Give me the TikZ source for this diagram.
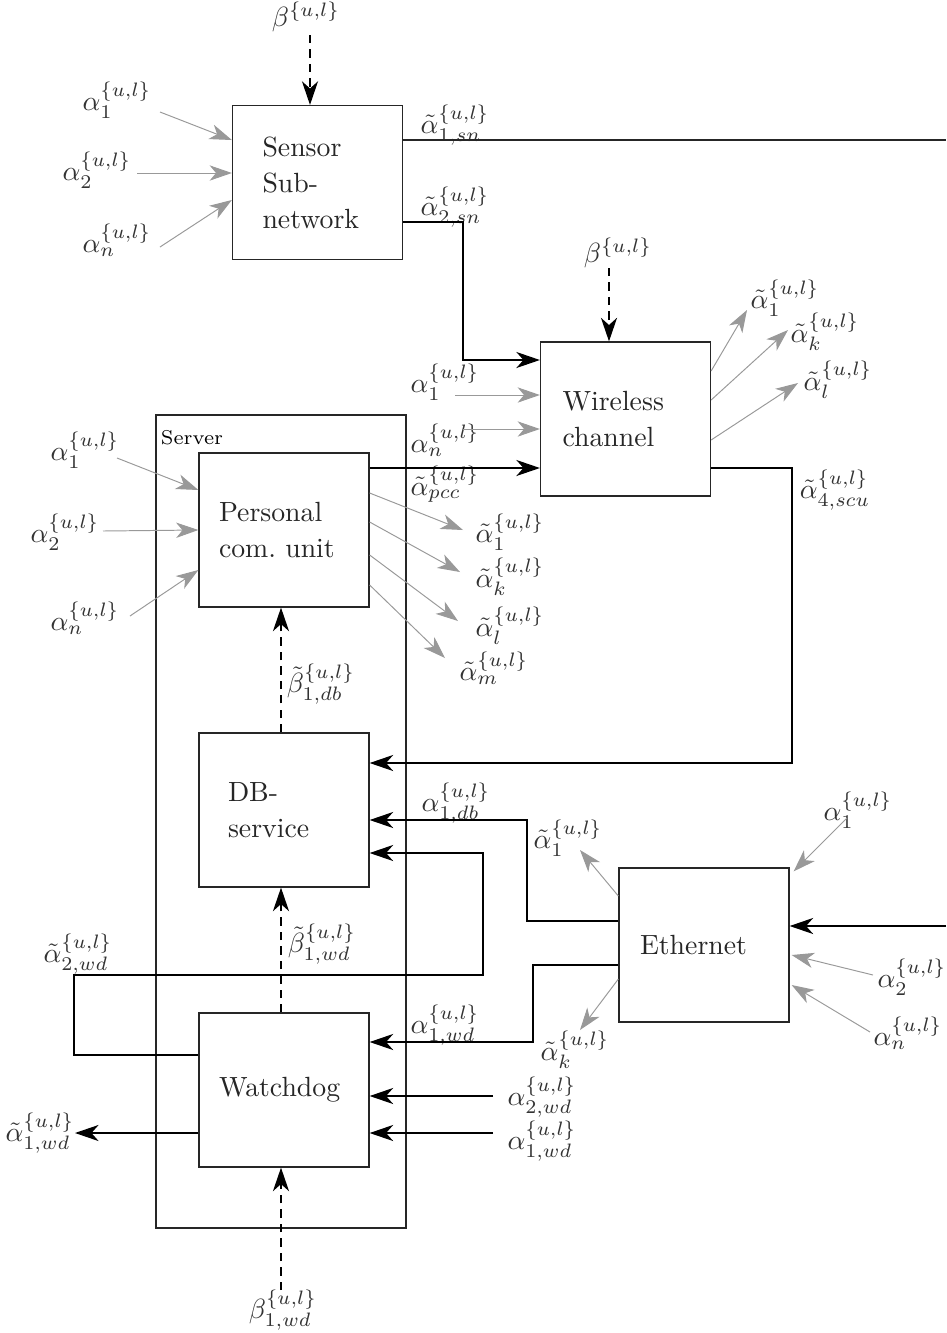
\documentclass[tikz,border=0pt]{standalone}
\usetikzlibrary{arrows.meta}
\begin{document}
\begin{tikzpicture}[x=0.36pt,y=-0.36pt,
 blk/.style 2 args={draw=black!85, line width=0.45pt, minimum height=55.44pt, inner ysep=0pt, inner xsep=#1pt, text width=#2pt, align=left, font=\fontsize{10}{13}\selectfont, text=black!85},
 lab/.style={inner sep=0pt, text=black!80, font=\fontsize{10}{12}\selectfont},
 barr/.style={draw=black, line width=0.45pt, -{Stealth[length=8.5pt,width=5.8pt,inset=2.6pt]}},
 garr/.style={draw=black!40, line width=0.35pt, -{Stealth[length=8pt,width=5.5pt,inset=2.3pt,fill=black!40]}},
 dsh/.style={barr, dash pattern=on 3pt off 2.2pt},
 wire/.style={draw=black!85, line width=0.45pt},
]
\useasboundingbox (0,0) rectangle (946,1333);
% server container
\node[draw=black!85, line width=0.45pt, minimum width=90pt, minimum height=292.7pt, inner sep=0pt] (srv) at (281,821.5) {};
\node[inner sep=0pt, font=\fontsize{7.2}{9}\selectfont, text=black] (srvl) at (192,438) {Server};
% blocks
\node[blk={10.8}{39.6}] (sn) at (317.5,182.5) {Sensor\\Sub-\\network};
\node[blk={7.92}{45.36}] (wc) at (625.5,419) {Wireless\\channel};
\node[blk={7.2}{46.8}] (pcu) at (284,530) {Personal\\com.\ unit};
\node[blk={10.44}{40.32}] (db) at (284,810) {DB-\\service};
\node[blk={7.56}{46.08}] (eth) at (704,945) {Ethernet};
\node[blk={7.2}{46.8}] (wd) at (284,1090) {Watchdog};
% labels
\node[lab] (lb1) at (306,17) {$\beta^{\{u,l\}}$};
\node[lab] (la1s) at (117,100) {$\alpha_1^{\{u,l\}}$};
\node[lab] (la2s) at (97,170) {$\alpha_2^{\{u,l\}}$};
\node[lab] (lans) at (117,240) {$\alpha_n^{\{u,l\}}$};
\node[lab] (lo1sn) at (455,125) {$\tilde\alpha_{1,sn}^{\{u,l\}}$};
\node[lab] (lo2sn) at (455,207) {$\tilde\alpha_{2,sn}^{\{u,l\}}$};
\node[lab] (lb2) at (618,253) {$\beta^{\{u,l\}}$};
\node[lab] (la1w) at (445,382) {$\alpha_1^{\{u,l\}}$};
\node[lab] (lanw) at (445,440) {$\alpha_n^{\{u,l\}}$};
\node[lab] (lpcc) at (445,484) {$\tilde\alpha_{pcc}^{\{u,l\}}$};
\node[lab] (lw1) at (785,298) {$\tilde\alpha_1^{\{u,l\}}$};
\node[lab] (lwk) at (825,332) {$\tilde\alpha_k^{\{u,l\}}$};
\node[lab] (lwl) at (838,380) {$\tilde\alpha_l^{\{u,l\}}$};
\node[lab] (lscu) at (835,490) {$\tilde\alpha_{4,scu}^{\{u,l\}}$};
\node[lab] (la1p) at (85,450) {$\alpha_1^{\{u,l\}}$};
\node[lab] (la2p) at (65,532) {$\alpha_2^{\{u,l\}}$};
\node[lab] (lanp) at (85,618) {$\alpha_n^{\{u,l\}}$};
\node[lab] (lp1) at (510,532) {$\tilde\alpha_1^{\{u,l\}}$};
\node[lab] (lpk) at (510,577) {$\tilde\alpha_k^{\{u,l\}}$};
\node[lab] (lpl) at (510,626) {$\tilde\alpha_l^{\{u,l\}}$};
\node[lab] (lpm) at (494,668) {$\tilde\alpha_m^{\{u,l\}}$};
\node[lab] (lbdb) at (321,684) {$\tilde\beta_{1,db}^{\{u,l\}}$};
\node[lab] (la1db) at (456,803) {$\alpha_{1,db}^{\{u,l\}}$};
\node[lab] (le1) at (568,838) {$\tilde\alpha_1^{\{u,l\}}$};
\node[lab] (lea1) at (858,810) {$\alpha_1^{\{u,l\}}$};
\node[lab] (la2wd) at (78,954) {$\tilde\alpha_{2,wd}^{\{u,l\}}$};
\node[lab] (lbwd) at (322,944) {$\tilde\beta_{1,wd}^{\{u,l\}}$};
\node[lab] (lea2) at (912,977) {$\alpha_2^{\{u,l\}}$};
\node[lab] (lean) at (908,1033) {$\alpha_n^{\{u,l\}}$};
\node[lab] (la1wd) at (445,1025) {$\alpha_{1,wd}^{\{u,l\}}$};
\node[lab] (lek) at (575,1050) {$\tilde\alpha_k^{\{u,l\}}$};
\node[lab] (l2wd) at (542,1097) {$\alpha_{2,wd}^{\{u,l\}}$};
\node[lab] (l1wd) at (542,1141) {$\alpha_{1,wd}^{\{u,l\}}$};
\node[lab] (lo1wd) at (40,1133) {$\tilde\alpha_{1,wd}^{\{u,l\}}$};
\node[lab] (lb1wd) at (283,1310) {$\beta_{1,wd}^{\{u,l\}}$};
% free ends
\coordinate (s1) at (160,112); \coordinate (s2) at (137,173); \coordinate (s3) at (160,247);
\coordinate (bs) at (310,35);
\coordinate (e1) at (946,140);
\coordinate (bw) at (609,268);
\coordinate (w1) at (455,395); \coordinate (w2) at (463,429);
\coordinate (wo1) at (747,310); \coordinate (wo2) at (788,330); \coordinate (wo3) at (798,383);
\coordinate (p1) at (117,458); \coordinate (p2) at (103,531); \coordinate (p3) at (130,616);
\coordinate (po1) at (463,530); \coordinate (po2) at (460,572); \coordinate (po3) at (458,621); \coordinate (po4) at (445,658);
\coordinate (eo1) at (580,850); \coordinate (eo2) at (580,1030);
\coordinate (ei1) at (847,818); \coordinate (ei0) at (946,926); \coordinate (ei2) at (873,975); \coordinate (ei3) at (870,1032);
\coordinate (wdo) at (75,1133); \coordinate (wi2) at (493,1096); \coordinate (wi1) at (493,1133);
\coordinate (bwd) at (281,1290);
% sensor
\draw[dsh] (bs) -- ([shift={(-7.5,0)}]sn.north);
\draw[garr] (s1) -- ([shift={(0,-42.5)}]sn.west);
\draw[garr] (s2) -- ([shift={(0,-9.5)}]sn.west);
\draw[garr] (s3) -- ([shift={(0,17.5)}]sn.west);
\draw[wire] ([shift={(0,-42.5)}]sn.east) -- (e1);
\draw[barr] ([shift={(0,39.5)}]sn.east) -| (463,360) -- ([shift={(0,-59)}]wc.west);
% wireless
\draw[dsh] (bw) -- ([shift={(-16.5,0)}]wc.north);
\draw[garr] (w1) -- ([shift={(0,-24)}]wc.west);
\draw[garr] (w2) -- ([shift={(0,10)}]wc.west);
\draw[barr] ([shift={(0,-62)}]pcu.east) -- ([shift={(0,49)}]wc.west);
\draw[garr] ([shift={(0,-48)}]wc.east) -- (wo1);
\draw[garr] ([shift={(0,-19)}]wc.east) -- (wo2);
\draw[garr] ([shift={(0,21)}]wc.east) -- (wo3);
\draw[barr] ([shift={(0,49)}]wc.east) -| (792,763) -- ([shift={(0,-47)}]db.east);
% personal
\draw[garr] (p1) -- ([shift={(0,-40)}]pcu.west);
\draw[garr] (p2) -- (pcu.west);
\draw[garr] (p3) -- ([shift={(0,40)}]pcu.west);
\draw[garr] ([shift={(0,-37)}]pcu.east) -- (po1);
\draw[garr] ([shift={(0,-8)}]pcu.east) -- (po2);
\draw[garr] ([shift={(0,25)}]pcu.east) -- (po3);
\draw[garr] ([shift={(0,55)}]pcu.east) -- (po4);
\draw[dsh] ([shift={(-3,0)}]db.north) -- ([shift={(-3,0)}]pcu.south);
% db
\draw[barr] ([shift={(0,-24)}]eth.west) -| (527,820) -- ([shift={(0,10)}]db.east);
\draw[barr] ([shift={(0,-35)}]wd.west) -| (74,975) -| (483,853) -- ([shift={(0,43)}]db.east);
\draw[dsh] ([shift={(-3,0)}]wd.north) -- ([shift={(-3,0)}]db.south);
% ethernet
\draw[garr] ([shift={(0,-49)}]eth.west) -- (eo1);
\draw[garr] ([shift={(0,34)}]eth.west) -- (eo2);
\draw[garr] (ei1) -- ([shift={(4,4)}]eth.north east);
\draw[barr] (ei0) -- ([shift={(0,-19)}]eth.east);
\draw[garr] (ei2) -- ([shift={(2,10)}]eth.east);
\draw[garr] (ei3) -- ([shift={(2,40)}]eth.east);
\draw[barr] ([shift={(0,20)}]eth.west) -| (533,1042) -- ([shift={(0,-48)}]wd.east);
% watchdog
\draw[barr] ([shift={(0,43)}]wd.west) -- (wdo);
\draw[barr] (wi2) -- ([shift={(0,6)}]wd.east);
\draw[barr] (wi1) -- ([shift={(0,43)}]wd.east);
\draw[dsh] (bwd) -- ([shift={(-3,0)}]wd.south);
\end{tikzpicture}
\end{document}
